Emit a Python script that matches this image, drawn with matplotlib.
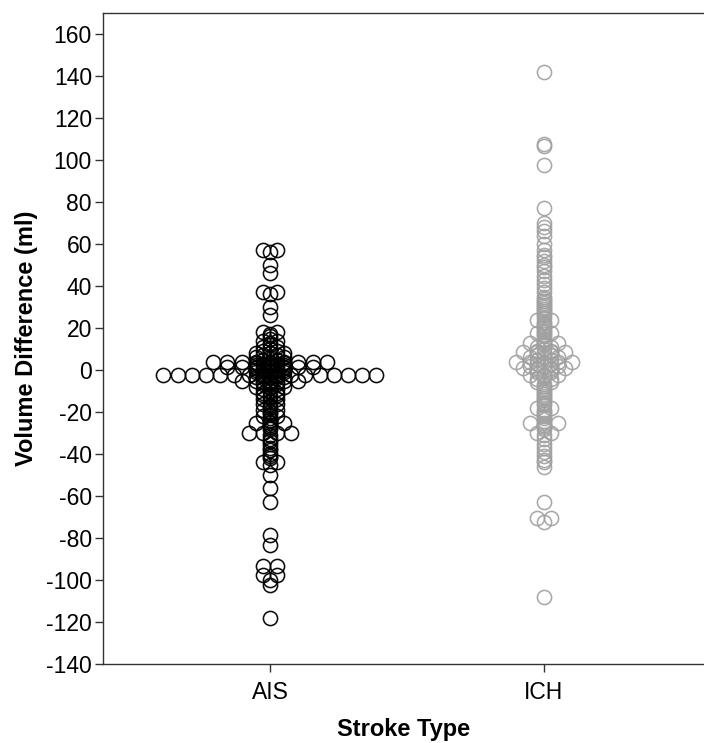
import numpy as np
import matplotlib
matplotlib.use("Agg")
import matplotlib.pyplot as plt

plt.rcParams['font.family'] = ['Liberation Sans', 'DejaVu Sans']

categories = ["AIS", "ICH"]

# Binned values (ml) and the number of cases in each bin
ais_values = [57, 56, 50, 46, 37, 36, 30, 26, 18, 17, 16, 15, 14, 13, 12, 11, 10, 9,
              8, 7, 6, 5, 4, 3.5, 3, 2.5, 2, 1.5, 1, 0.5, 0, -0.5, -1, -1.5, -2.5, -3,
              -3.5, -4, -5, -5.5, -6, -6.5, -7, -8, -8.5, -9, -10, -11, -12, -12.5,
              -13, -14, -15, -16, -17, -18, -19, -20, -21, -22, -23, -24, -25, -26,
              -27, -28, -30, -31, -33, -34, -35, -37, -38, -40, -41, -42, -44, -45,
              -50, -56, -63, -78.5, -83.5, -93.5, -97.5, -100, -102.5, -118]
ais_counts = [2, 1, 1, 1, 2, 1, 1, 1, 2, 1, 1, 1, 2, 1, 1, 2, 1, 2,
              3, 2, 3, 2, 9, 3, 2, 3, 2, 7, 3, 2, 3, 2, 3, 2, 16, 2,
              3, 2, 5, 2, 1, 2, 1, 3, 1, 2, 1, 2, 2, 1,
              1, 2, 1, 2, 1, 1, 2, 1, 1, 2, 1, 1, 3, 1,
              1, 1, 4, 1, 1, 1, 1, 1, 1, 1, 1, 1, 2, 1,
              1, 1, 1, 1, 1, 2, 2, 1, 1, 1]

ich_values = [142, 107.5, 106.5, 97.5, 77, 70, 68, 66, 64, 60, 57, 55, 54, 52, 50,
              49, 47, 45, 43, 41, 39, 37, 35, 34, 33, 32, 31, 30, 29, 28, 27, 26, 25,
              24, 23, 22, 21, 20, 19, 18, 17.5, 17, 16, 15, 14, 13, 12, 11, 10, 9,
              8.5, 8, 7, 6, 5, 4, 3, 2, 1, 0, -1, -2.5, -3.5, -4.5, -5.5, -6.5, -7.5,
              -8.5, -9.5, -10.5, -11.5, -12.5, -13.5, -14.5, -15.5, -16.5, -18, -19,
              -20, -21, -22, -23, -25, -26, -27, -28, -30, -31, -33, -35, -37, -39,
              -41, -43, -44, -46, -63, -70.5, -72.5, -108]
ich_counts = [1, 1, 1, 1, 1, 1, 1, 1, 1, 1, 1, 1, 1, 1, 1,
              1, 1, 1, 1, 1, 1, 1, 1, 1, 1, 1, 1, 1, 1, 1, 1, 1, 1,
              2, 1, 1, 1, 1, 1, 1, 2, 1, 1, 1, 1, 3, 1, 2, 1, 2,
              4, 1, 2, 3, 2, 5, 2, 3, 4, 2, 2, 3, 1, 2, 2, 1, 1,
              1, 1, 1, 1, 1, 1, 1, 1, 1, 2, 1,
              1, 1, 1, 1, 3, 1, 1, 1, 2, 1, 1, 1, 1, 1,
              1, 1, 1, 1, 1, 2, 1, 1]

y_ticks = list(range(-140, 161, 20))

groups = [(ais_values, ais_counts, "#000000", 0.95),
          (ich_values, ich_counts, "#a0a0a0", 0.9)]

W, H = 704, 743
fig = plt.figure(figsize=(W / 100, H / 100), dpi=100)
ax = fig.add_axes([103 / W, 1 - 664 / H, (W - 103) / W, (664 - 13) / H])

xmin, xmax = 0.3905, 2.584
ax.set_xlim(xmin, xmax)
ax.set_ylim(-140, 170)

# marker spacing: one marker diameter (~14 px) in x data units
ax_w_px = W - 103
dx = 14.2 / ax_w_px * (xmax - xmin)

for gi, (vals, cnts, col, a) in enumerate(groups):
    xs, ys = [], []
    for v, n in zip(vals, cnts):
        for i in range(n):
            xs.append(gi + 1 + (i - (n - 1) / 2) * dx)
            ys.append(v)
    ax.plot(xs, ys, linestyle='none', marker='o', markersize=10.2,
            markerfacecolor='none', markeredgecolor=col, markeredgewidth=1.15,
            alpha=a)

ax.set_xticks([1, 2])
ax.set_xticklabels(categories)
ax.set_yticks(y_ticks)
ax.set_yticklabels([str(t) for t in y_ticks])

for s in ['left', 'bottom', 'top']:
    ax.spines[s].set_color('#333333')
    ax.spines[s].set_linewidth(1.0)
ax.spines['right'].set_visible(False)

ax.tick_params(axis='both', direction='out', length=6, width=1.0,
               color='#333333', labelsize=16.5, labelcolor='black', pad=2)
ax.tick_params(axis='x', pad=6)

ax.set_xlabel("Stroke Type", fontsize=17, fontweight='bold', labelpad=10)
ax.set_ylabel("Volume Difference (ml)", fontsize=17, fontweight='bold', labelpad=6)

fig.savefig("out.png", dpi=100)
